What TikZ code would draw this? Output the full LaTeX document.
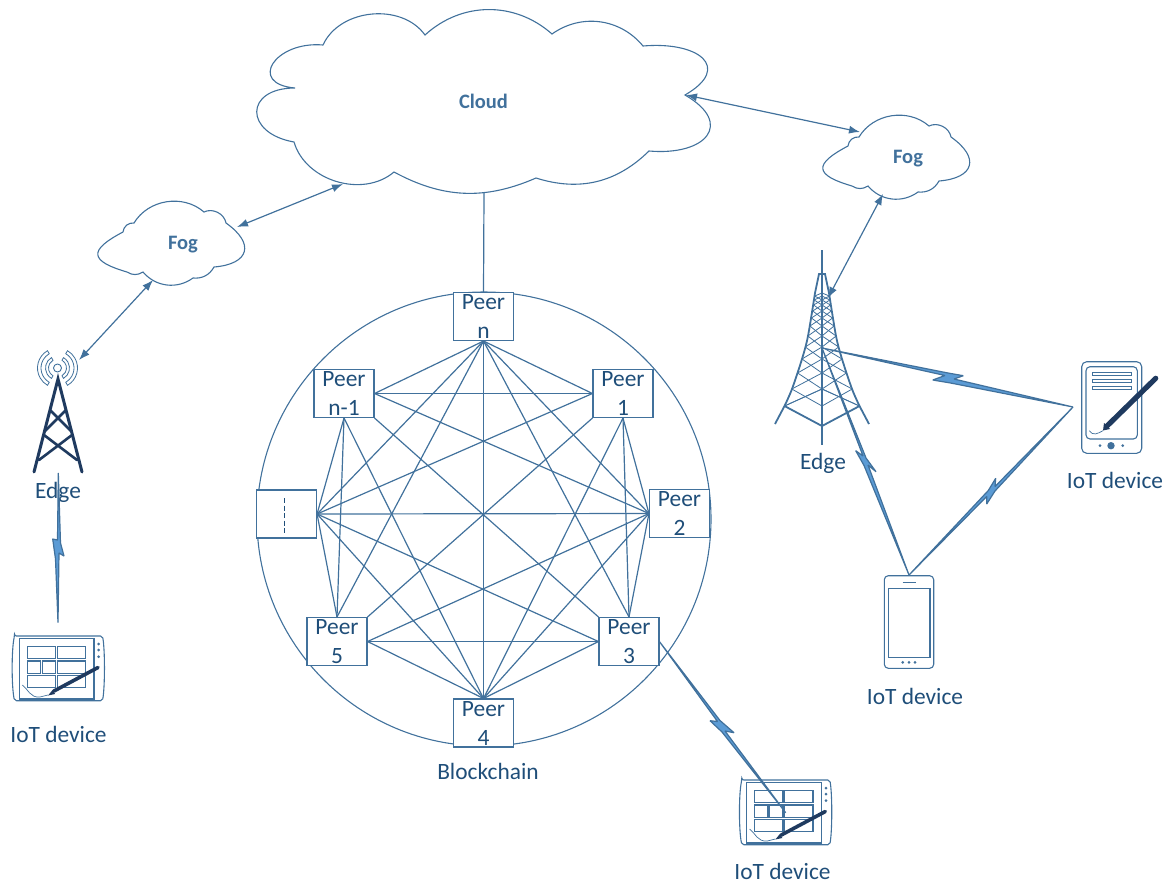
\documentclass[tikz,border=0pt]{standalone}
\usepackage{fontspec}
\setmainfont{Carlito}
\usetikzlibrary{arrows.meta, positioning, calc}
\definecolor{colLine}{RGB}{65, 113, 156}
\definecolor{colBolt}{RGB}{91, 155, 213}
\definecolor{colText}{RGB}{31, 78, 121}
\definecolor{colDark}{RGB}{31, 58, 95}
\tikzset{
    peerbox/.style={draw=colLine, fill=white, line width=1.1pt, minimum width=60pt, minimum height=48pt, inner sep=0pt, align=center, text=colText, font=\fontsize{23.4}{29}\selectfont},
    toplabel/.style={anchor=base, inner sep=0pt, text=colText, font=\fontsize{23.4}{29}\selectfont},
    cloudlabel/.style={anchor=base, inner sep=0pt, text=colLine, font=\fontsize{20.5}{24}\selectfont\bfseries},
    outline/.style={draw=colLine, line width=1.1pt},
    meshline/.style={draw=colLine, line width=1.2pt},
    linkarrow/.style={draw=colLine, line width=1.2pt, {Latex[length=11pt,width=8pt]}-{Latex[length=11pt,width=8pt]}},
    boltshape/.style={draw=colLine, fill=colBolt, line width=1.2pt, line join=bevel},
    lattice/.style={draw=colLine, line width=0.8pt},
    towerleg/.style={draw=colLine, line width=1.8pt},
    darkleg/.style={draw=colDark, line width=3pt, line cap=round},
    pen/.style={draw=colDark, line cap=round}
}

\begin{document}
\begin{tikzpicture}[x=1pt, y=-1pt]
    \useasboundingbox (0,0) rectangle (1172,884);

    % --- Cloud ---
    \draw[outline] (295,88)
        to[out=175, in=175, looseness=2.4] (323,45)
        to[bend left=60] (425,35)
        to[bend left=42] (552,34)
        to[bend left=43] (643,46)
        to[out=5, in=30, looseness=2.2] (685,95)
        to[out=-30, in=-5, looseness=2.2] (649,151)
        to[bend left=31] (536,178)
        to[bend left=26] (394,172)
        to[bend left=57] (294,142)
        to[out=170, in=180, looseness=2.4] (295,88);
    \node[cloudlabel] (cloud) at (483.5,108) {Cloud};

    % --- Fog, same outline twice ---
    \foreach \fx/\fy in {0/0, 725/-86} {
        \draw[outline, shift={(\fx,\fy)}] (123,232)
            to[bend right=68, looseness=2.5] (127,272)
            to[bend right=33] (143,272)
            to[bend right=43] (193,278)
            to[bend right=33] (214,267)
            to[bend right=70, looseness=2] (226,223)
            to[bend right=53] (204,212)
            to[bend right=50] (134,223)
            to[bend right=46] (123,232);
    }
    \node[cloudlabel] (fogleft) at (183,249) {Fog};
    \node[cloudlabel] (fogright) at (908,163) {Fog};

    % --- Blockchain circle and peers ---
    \draw[outline] (484,519) circle[radius=227pt];
    \node[peerbox] (peern) at (483.5,316.5) {Peer\\n};
    \node[peerbox] (peernm) at (344,393.5) {Peer\\n-1};
    \node[peerbox] (peerone) at (623,393.5) {Peer\\1};
    \node[peerbox] (peertwo) at (679.5,513.5) {Peer\\2};
    \node[peerbox] (peerdots) at (286.5,514) {};
    \node[peerbox] (peerfive) at (337,641.5) {Peer\\5};
    \node[peerbox] (peerthree) at (629,641.5) {Peer\\3};
    \node[peerbox] (peerfour) at (483.5,723) {Peer\\4};
    \draw[colText, line width=1.4pt, dash pattern=on 5pt off 2.5pt] (284.5,498) -- (284.5,534);
    \node[toplabel] (blockchain) at (488,779) {Blockchain};

    % Mesh between all peers
    \foreach \pa/\pb in {
        peern.south/peerfour.north, peern.south/peernm.east, peern.south/peerone.west,
        peern.south/peertwo.west, peern.south/peerdots.east, peern.south/peerfive.north,
        peern.south/peerthree.north,
        peernm.east/peerone.west, peernm.east/peertwo.west, peernm.south east/peerthree.north west,
        peernm.south/peerfour.north, peernm.south/peerfive.north, peernm.south/peerdots.east,
        peerone.west/peerdots.east, peerone.south west/peerfive.north east, peerone.south/peerfour.north,
        peerone.south/peerthree.north, peerone.south/peertwo.west,
        peertwo.west/peerdots.east, peertwo.west/peerfive.east, peertwo.west/peerfour.north,
        peertwo.west/peerthree.north,
        peerdots.east/peerthree.west, peerdots.east/peerfour.north, peerdots.east/peerfive.north,
        peerfive.east/peerthree.west, peerfive.east/peerfour.north,
        peerthree.west/peerfour.north} {
        \draw[meshline] (\pa) -- (\pb);
    }
    \draw[meshline] (484,193) -- (peern.north);

    % --- Edge on the left ---
    \coordinate (ant) at (57.5,368);
    \draw[colLine, line width=0.9pt] (ant) circle[radius=4pt];
    \foreach \sa/\ea in {120/240, -60/60} {
        \draw[colLine, line width=0.8pt] (ant) ++(\sa:20pt) arc[start angle=\sa, end angle=\ea, radius=20pt]
            -- ($(ant)+(\ea:16.5pt)$) arc[start angle=\ea, end angle=\sa, radius=16.5pt] -- cycle;
        \draw[colLine, line width=0.8pt] (ant) ++(\sa:12pt) arc[start angle=\sa, end angle=\ea, radius=12pt]
            -- ($(ant)+(\ea:9pt)$) arc[start angle=\ea, end angle=\sa, radius=9pt] -- cycle;
    }
    \draw[darkleg] (34,472) -- (58,379) -- (82,472);
    \draw[darkleg, line width=2.6pt] (50,410) -- (72,432) (66,410) -- (44,432);
    \draw[darkleg, line width=2.6pt] (44,435) -- (77,460) (72,435) -- (39,460);
    \node[toplabel] (edgeleft) at (58,498) {Edge};

    % --- Edge on the right ---
    \foreach \ly/\dx/\cu/\cd in {
        406/37.5/389/389, 389/30.2/373/406, 373/24.4/359/389, 359/20/347/373,
        347/16.7/336/359, 336/14.1/326/347, 326/12/318/336, 318/10.5/311/326,
        311/9.3/305/318, 305/8.4/300/311, 300/7.8/296/305, 296/7.4/293/300} {
        \draw[lattice] ({822-\dx},\ly) -- (822,\cu) ({822+\dx},\ly) -- (822,\cu);
        \draw[lattice] ({822-\dx},\ly) -- (822,\cd) ({822+\dx},\ly) -- (822,\cd);
    }
    \path[towerleg] plot[smooth] coordinates {(815,293) (808,336) (802,359) (792,389) (784.5,406)} -- (775,424);
    \path[towerleg] plot[smooth] coordinates {(829,293) (836,336) (842,359) (852,389) (859.5,406)} -- (869,424);
    \draw[towerleg] (815,293) -- (819,274) -- (825,274) -- (829,293);
    \draw[towerleg] (784.5,406) -- (822,426) -- (859.5,406);
    \draw[towerleg] (822,250) -- (822,445);
    \node[toplabel] (edgeright) at (823,469) {Edge};

    % --- Tablet, left and bottom ---
    \foreach \tx/\ty in {0/0, 727.3/144} {
        \begin{scope}[shift={(\tx,\ty)}]
            \draw[outline, rounded corners=2pt] (14.5,636) -- (102.5,636) .. controls (105,650) and (105,686) .. (102.5,700.7) -- (14.5,700.7) .. controls (11.5,686) and (11.5,650) .. (14.5,636) -- cycle;
            \draw[outline] (19.3,638.5) rectangle (94,699);
            \foreach \xa/\xb/\ya/\yb in {
                27.3/55.7/646.7/658.3, 57.3/85.7/646.7/658.3,
                27.3/40.7/661/673.3, 42.3/55.7/661/673.3, 57.3/85.7/661/673.3,
                27.3/55.7/675.7/687.3, 57.3/85.7/675.7/687.3} {
                \draw[outline] (\xa,\ya) rectangle (\xb,\yb);
            }
            \foreach \dy in {644, 650, 656.7} {
                \fill[colLine] (98.7,\dy) circle[radius=1.5pt];
            }
            \draw[outline, line width=0.7pt] (22.3,685) .. controls (28,689) and (30,698) .. (40,697) -- (48,695);
            \fill[colDark] (48,695.5) -- (53,689.5) -- (55,694) -- cycle;
            \draw[pen, line width=3.6pt] (54,691) -- (98,667.5);
        \end{scope}
    }
    \node[toplabel] (iotleft) at (58.5,742) {IoT device};
    \node[toplabel] (iotbottom) at (782.5,879) {IoT device};

    % --- Tablet upright ---
    \draw[outline, rounded corners=5pt] (1081.7,361.7) rectangle (1141.7,453.3);
    \draw[outline, rounded corners=4pt] (1086,366.7) rectangle (1137.3,439);
    \foreach \ya/\yb in {372.3/375.7, 379/382.7, 386/389.7} {
        \draw[outline, line width=0.9pt] (1092.3,\ya) rectangle (1131.7,\yb);
    }
    \fill[colLine] (1111,445.7) circle[radius=3.7pt] (1100,445.7) circle[radius=1.5pt] (1122.7,445.7) circle[radius=1.5pt];
    \draw[outline, line width=0.7pt] (1089.3,430.7) .. controls (1093,436) and (1097,434) .. (1103,430.7);
    \fill[colDark] (1103,430.5) -- (1104,423) -- (1110,429) -- cycle;
    \draw[pen, line width=5.2pt] (1107,426) -- (1155.7,378.3);
    \node[toplabel] (iotright) at (1115,488) {IoT device};

    % --- Phone ---
    \draw[outline, rounded corners=4pt] (884.3,575.7) rectangle (933.7,668.3);
    \draw[outline] (888.3,588.3) rectangle (930,657.3);
    \draw[outline] (902.7,582.7) -- (915.7,582.7);
    \foreach \dx in {902.7, 909, 915} {
        \fill[colLine] (\dx,662.3) circle[radius=1.5pt];
    }
    \node[toplabel] (iotphone) at (915,704) {IoT device};

    % Free ends of the links
    \coordinate (cloudsw) at (343,184);
    \coordinate (cloudeast) at (686,95);
    \coordinate (fogleftne) at (237,227);
    \coordinate (fogleftsw) at (153,280);
    \coordinate (fogrightnw) at (860,132);
    \coordinate (fogrightsw) at (883,194);
    \coordinate (towerleft) at (79,360);
    \coordinate (towerright) at (828,298);
    \coordinate (mastpoint) at (822,348);
    \coordinate (linkleft) at (58.3,473);
    \coordinate (linkleftend) at (58,622.6);
    \coordinate (linkpad) at (1073,407);
    \coordinate (linkphone) at (909,575);
    \coordinate (linkpeer) at (659,641);
    \coordinate (linktablet) at (785.7,812.7);

    % Arrows
    \draw[linkarrow] (fogleftne) -- (cloudsw);
    \draw[linkarrow] (cloudeast) -- (fogrightnw);
    \draw[linkarrow] (towerleft) -- (fogleftsw);
    \draw[linkarrow] (towerright) -- (fogrightsw);

    % Radio links
    \draw[boltshape] (linkleft) -- (57.5,540) -- (52.7,539) -- (55.5,559) -- (linkleftend) -- (59,553) -- (64,556) -- (60.5,543) -- cycle;
    \draw[boltshape] (mastpoint) -- (948,373) -- (963.3,375.7) -- (954,379) -- (linkpad) -- (950.5,383) -- (932.7,380) -- (945,375.5) -- cycle;
    \draw[boltshape] (linkpad) -- (995,491) -- (986.7,504) -- (986.7,496.5) -- (linkphone) -- (988.3,490.5) -- (995.7,478.3) -- (995,486.5) -- cycle;
    \draw[boltshape] (mastpoint) -- (866,458) -- (876,471.7) -- (868,465) -- (linkphone) -- (864,465.5) -- (855.7,450.7) -- (863,456) -- cycle;
    \draw[boltshape] (linkpeer) -- (720,720.5) -- (734,732.7) -- (725,731) -- (linktablet) -- (722,732) -- (710,720.7) -- (717.5,721.5) -- cycle;
\end{tikzpicture}
\end{document}
